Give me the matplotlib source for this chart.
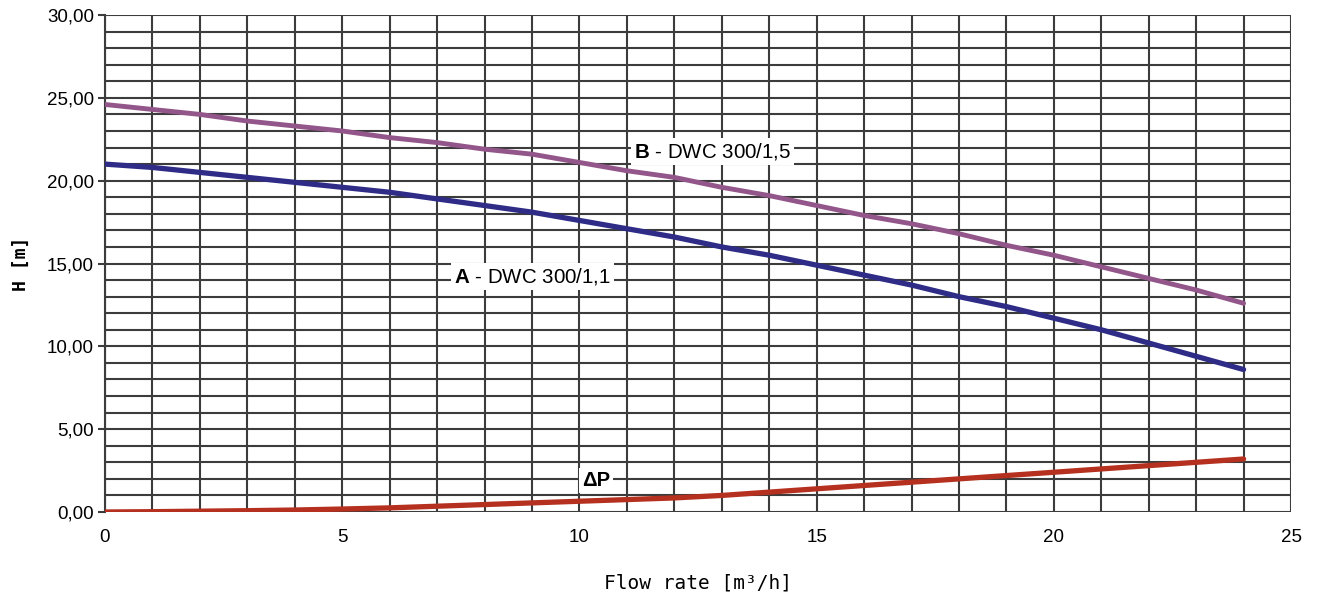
# Pump curves: head vs flow rate for DWC 300 pumps
import numpy as np
import matplotlib.pyplot as plt

plt.rcParams['font.family'] = ['Liberation Sans', 'DejaVu Sans']
plt.rcParams['mathtext.fontset'] = 'custom'
plt.rcParams['mathtext.rm'] = 'Liberation Sans'
plt.rcParams['mathtext.bf'] = 'Liberation Sans:bold'

# data
flow = [0, 1, 2, 3, 4, 5, 6, 7, 8, 9, 10, 11, 12, 13, 14, 15, 16, 17, 18, 19, 20, 21, 22, 23, 24]
head_b = [24.6, 24.3, 24.0, 23.6, 23.3, 23.0, 22.6, 22.3, 21.9, 21.6, 21.1, 20.6, 20.2, 19.6, 19.1, 18.5,
          17.9, 17.4, 16.8, 16.1, 15.5, 14.8, 14.1, 13.4, 12.6]
head_a = [21.0, 20.8, 20.5, 20.2, 19.9, 19.6, 19.3, 18.9, 18.5, 18.1, 17.6, 17.1, 16.6, 16.0, 15.5, 14.9,
          14.3, 13.7, 13.0, 12.4, 11.7, 11.0, 10.2, 9.4, 8.6]
delta_p = [0.0, 0.02, 0.05, 0.08, 0.12, 0.18, 0.25, 0.35, 0.45, 0.55, 0.65, 0.75, 0.85, 1.0, 1.2, 1.4,
           1.6, 1.8, 2.0, 2.2, 2.4, 2.6, 2.8, 3.0, 3.2]

fig = plt.figure(figsize=(13.19, 6.03), dpi=100)
ax = fig.add_axes([0.0796, 0.1509, 0.8992, 0.8242])

ax.plot(flow, head_b, color='#93568a', lw=3.5, solid_capstyle='round', zorder=3)
ax.plot(flow, head_a, color='#2e2c86', lw=3.8, solid_capstyle='round', zorder=3)
ax.plot(flow, delta_p, color='#b5301f', lw=3.8, solid_capstyle='round', zorder=3)

ax.set_xlim(0, 25)
ax.set_ylim(0, 30)
ax.set_xticks(range(0, 26, 5))
ax.set_yticks(range(0, 31, 5))
ax.set_yticklabels([f'{v:.2f}'.replace('.', ',') for v in range(0, 31, 5)])
ax.set_xticks(range(0, 26), minor=True)
ax.set_yticks(range(0, 31), minor=True)
ax.grid(True, which='both', color='#3c3c3c', lw=1.5, zorder=1)
ax.tick_params(which='both', length=0, labelsize=13.5, colors='black')
ax.tick_params(axis='x', pad=12)
ax.tick_params(axis='y', which='major', length=5, width=1.5, color='#3c3c3c', pad=3)
for side in ['top', 'right', 'bottom']:
    ax.spines[side].set_visible(False)
ax.spines['left'].set_color('#3c3c3c')
ax.spines['left'].set_linewidth(1.5)

box = dict(facecolor='white', edgecolor='none', pad=2)
ax.text(11.15, 21.75, r'$\mathbf{B}$ - DWC 300/1,5', fontsize=14.8, va='center', ha='left', bbox=box, zorder=4)
ax.text(7.35, 14.2, r'$\mathbf{A}$ - DWC 300/1,1', fontsize=14.8, va='center', ha='left', bbox=box, zorder=4)
ax.text(10.05, 1.9, 'ΔP', fontsize=14.5, fontweight='bold', va='center', ha='left', bbox=box, zorder=4)

ax.set_xlabel('Flow rate [m³/h]', fontsize=14, family='DejaVu Sans Mono', labelpad=20)
ax.set_ylabel('H [m]', fontsize=13, family='DejaVu Sans Mono', fontweight='bold', labelpad=12)

fig.savefig('out.png', dpi=100)
